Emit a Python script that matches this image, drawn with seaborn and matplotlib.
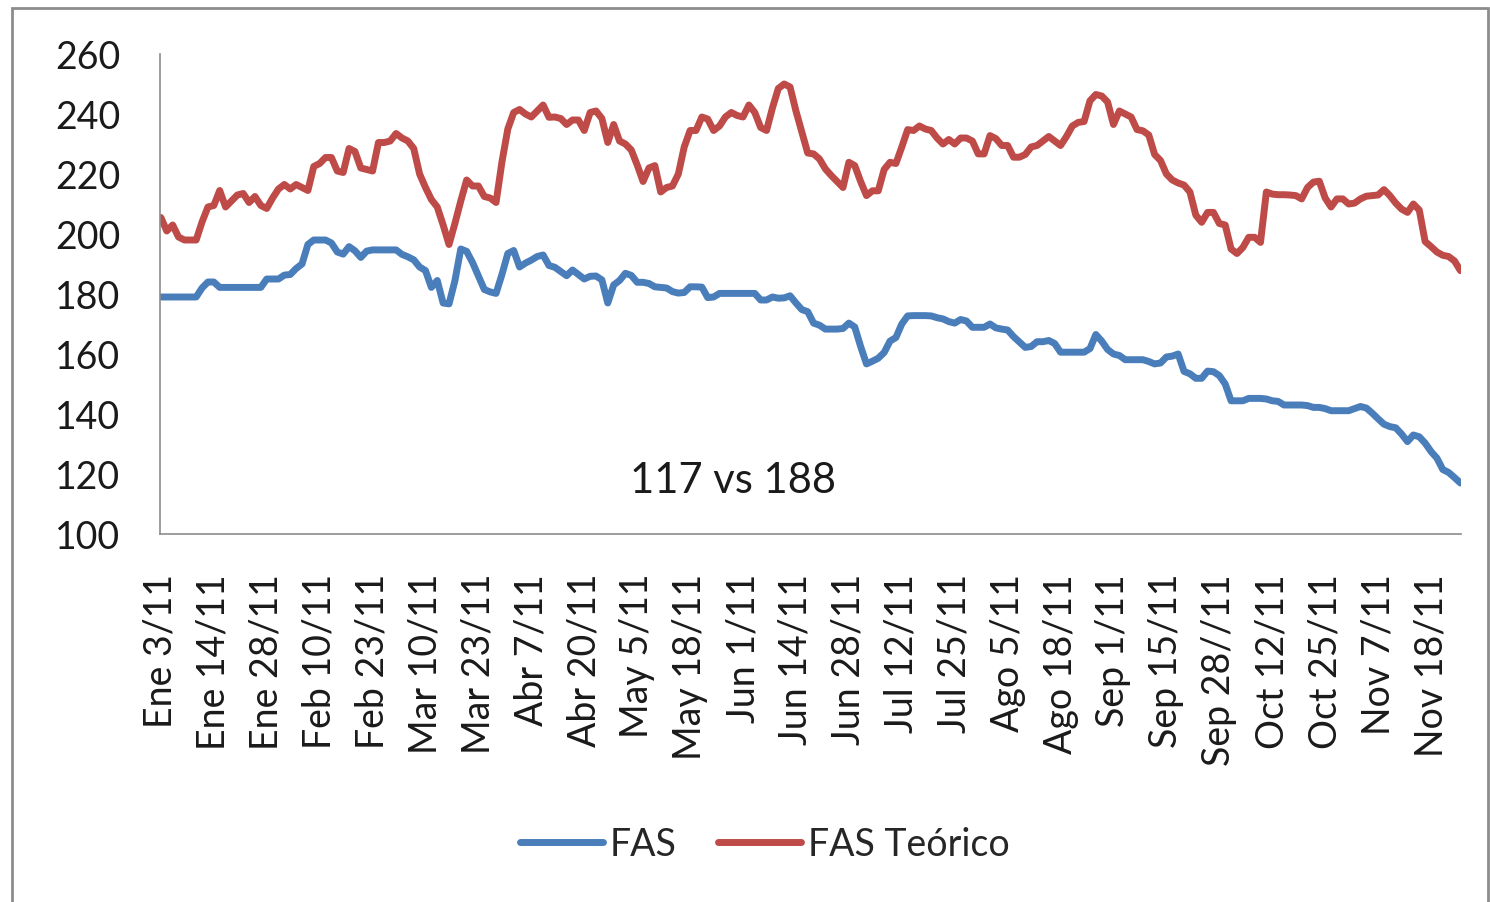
import matplotlib
matplotlib.use("Agg")
import matplotlib.pyplot as plt
import numpy as np
import pandas as pd
import seaborn as sns
from matplotlib.patches import Rectangle

# etiquetas del eje x (una cada 9 ruedas)
fechas = ["Ene 3/11", "Ene 14/11", "Ene 28/11", "Feb 10/11", "Feb 23/11",
          "Mar 10/11", "Mar 23/11", "Abr 7/11", "Abr 20/11", "May 5/11",
          "May 18/11", "Jun 1/11", "Jun 14/11", "Jun 28/11", "Jul 12/11",
          "Jul 25/11", "Ago 5/11", "Ago 18/11", "Sep 1/11", "Sep 15/11",
          "Sep 28//11", "Oct 12/11", "Oct 25/11", "Nov 7/11", "Nov 18/11"]

fas = [179, 179, 179, 179, 179, 179, 179, 182, 184, 184,
       182.2, 182.2, 182.2, 182.2, 182.2, 182.2, 182.2, 182.2, 185, 185,
       185, 186.3, 186.5, 188.5, 190, 196.5, 198, 198, 198, 197,
       194, 193.3, 195.8, 194.4, 192.2, 194.3, 194.7, 194.7, 194.7, 194.7,
       194.7, 193.2, 192.4, 191.4, 189, 187.8, 182.2, 184.5, 177, 176.7,
       184.4, 195, 194.2, 190.5, 186, 181.5, 180.7, 180.2, 186.5, 193.5,
       194.5, 189, 190.3, 191.3, 192.5, 193, 189.5, 188.9, 187.5, 186.1,
       188, 186.5, 185, 185.9, 186, 184.7, 177, 183, 184.5, 186.9,
       186.2, 183.9, 183.9, 183.5, 182.4, 182.2, 182, 180.8, 180.3, 180.5,
       182.4, 182.4, 182.3, 178.8, 179, 180.2, 180.2, 180.2, 180.2, 180.2,
       180.2, 180.2, 178, 178, 179, 178.6, 178.7, 179.4, 177, 174.8,
       174.1, 170.3, 169.6, 168.3, 168.3, 168.3, 168.5, 170.3, 169, 162.5,
       156.7, 157.6, 158.6, 160.5, 164.3, 165.5, 170, 172.7, 172.8, 172.8,
       172.8, 172.7, 172.1, 171.7, 170.8, 170.3, 171.5, 171, 168.9, 168.9,
       168.9, 170, 168.7, 168.3, 168, 165.8, 164, 162.2, 162.5, 164.1,
       164.1, 164.5, 163.5, 160.6, 160.6, 160.6, 160.6, 160.6, 161.8, 166.5,
       164.3, 161.5, 160, 159.5, 158.1, 158.1, 158.1, 158.1, 157.5, 156.7,
       157, 159, 159.3, 160, 154.2, 153.4, 151.9, 151.9, 154.3, 154.1,
       152.8, 150, 144.4, 144.4, 144.4, 145.2, 145.2, 145.2, 145, 144.4,
       144.2, 143, 143, 143, 143, 142.8, 142.2, 142.2, 141.8, 141.1,
       141.1, 141.1, 141.1, 141.8, 142.5, 142, 140.3, 138.4, 136.6, 135.8,
       135.4, 133.3, 130.8, 133, 132.4, 130.3, 127.5, 125.3, 121.5, 120.5,
       118.8, 117]

fas_teorico = [205.5, 201, 203, 199, 198, 198, 198, 204, 209, 209.5,
               214.5, 209, 211, 213, 213.5, 210.5, 212.5, 209.5, 208.5, 212,
               215, 216.5, 215, 216.5, 215.5, 214.5, 222.5, 223.5, 225.5, 225.5,
               221, 220.5, 228.5, 227.5, 222, 221.5, 221, 230.5, 230.5, 231,
               233.5, 232, 231, 228.5, 220, 215.5, 211.5, 209, 203, 196.5,
               203.5, 211, 218, 216, 216, 212.5, 212, 210.5, 224, 235,
               240.5, 241.5, 240, 239, 241, 243, 238.9, 239, 238.5, 236.5,
               238, 238, 234.5, 240.5, 241, 238.5, 230.5, 236.5, 231, 230,
               228, 223, 217.5, 222, 222.8, 214, 215.5, 216, 220, 229,
               234.5, 234.5, 239, 238.3, 234.5, 236, 239, 240.5, 239.5, 239,
               243, 240.5, 235.5, 234.5, 242, 248.5, 250, 249, 241, 234,
               227, 226.7, 225, 221.7, 219.5, 217.5, 215.5, 223.9, 222.8, 217.5,
               212.8, 214.4, 214.4, 221.5, 223.9, 223.5, 229, 234.8, 234.5, 236,
               235, 234.5, 232, 230, 231.5, 230, 232, 232, 231, 226.7,
               226.7, 232.8, 231.8, 229.5, 229.5, 225.6, 225.6, 226.5, 229, 229.5,
               231, 232.5, 231, 229.5, 232.5, 236, 237.2, 237.5, 244.4, 246.5,
               246, 244, 236.5, 241, 240, 239, 234.8, 234.4, 233, 226.5,
               224.5, 220, 218, 217, 216.3, 214, 206.3, 203.9, 207.2, 207.2,
               203.5, 203, 195, 193.5, 195.5, 198.9, 198.9, 197.2, 214, 213.3,
               213.1, 213.1, 213, 212.8, 211.7, 215.5, 217.3, 217.6, 212, 209,
               211.7, 211.7, 210, 210.3, 211.7, 212.6, 212.8, 213, 214.8, 212.8,
               210.3, 208.3, 207.2, 210, 208, 197.5, 195.8, 194, 192.9, 192.5,
               191, 187.8]

series = ["FAS", "FAS Teórico"]
colores = {"FAS": "#4A7EBB", "FAS Teórico": "#BE4B48"}
paso_etiquetas = 9

df = pd.concat([
    pd.DataFrame({"rueda": np.arange(len(fas)), "valor": fas, "serie": "FAS"}),
    pd.DataFrame({"rueda": np.arange(len(fas_teorico)), "valor": fas_teorico,
                  "serie": "FAS Teórico"}),
])

sns.set_style("white")
plt.rcParams["font.family"] = ["Lato", "DejaVu Sans"]

fig = plt.figure(figsize=(14.9, 9.03), dpi=100)
ax = fig.add_axes([160 / 1490, 1 - 535 / 903, 1301 / 1490, 480 / 903])

sns.lineplot(data=df, x="rueda", y="valor", hue="serie", hue_order=series,
             palette=colores, linewidth=5, ax=ax, legend=False,
             solid_joinstyle="round", solid_capstyle="round")

ax.set_xlim(-0.15, 221.1)
ax.set_ylim(100, 260)
ax.set_yticks(np.arange(100, 261, 20))
ax.set_xticks(np.arange(len(fechas)) * paso_etiquetas)
ax.set_xticklabels(fechas, rotation=90)
ax.set_xlabel("")
ax.set_ylabel("")
ax.tick_params(axis="both", length=0, labelsize=27, colors="#1A1A1A")
ax.tick_params(axis="y", pad=28.5)
ax.tick_params(axis="x", pad=28)
for lado in ["top", "right"]:
    ax.spines[lado].set_visible(False)
for lado in ["left", "bottom"]:
    ax.spines[lado].set_color("#8C8C8C")
    ax.spines[lado].set_linewidth(1.2)

# leyenda abajo
handles = [plt.Line2D([], [], color=colores[s], linewidth=5, solid_capstyle="round")
           for s in series]
fig.legend(handles, series, loc="center", bbox_to_anchor=(765 / 1490, 1 - 845 / 903),
           ncol=2, frameon=False, fontsize=27, handlelength=2.2,
           handletextpad=0.2, columnspacing=1.1)

fig.text(733 / 1490, 1 - 481 / 903, "117 vs 188", ha="center", va="center",
         fontsize=30, color="#1A1A1A")

# marco exterior
fig.patches.append(Rectangle((12 / 1490, -0.05), 1476 / 1490, 1.05 - 9 / 903,
                             transform=fig.transFigure, fill=False,
                             edgecolor="#8C8C8C", linewidth=2, clip_on=False))

fig.savefig("out.png", dpi=100)
